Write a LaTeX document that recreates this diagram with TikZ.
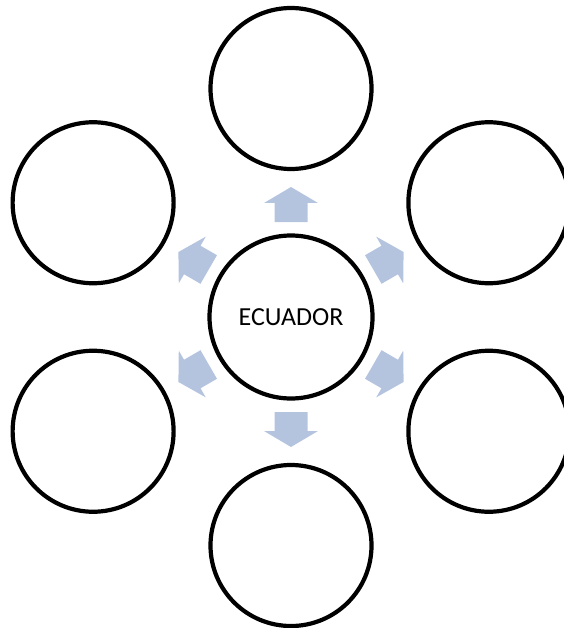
\documentclass[tikz,border=0pt]{standalone}
\usepackage{fontspec}
\setmainfont{Carlito}
\usetikzlibrary{calc}
\definecolor{arrowblue}{RGB}{180,196,223}

\begin{document}
\begin{tikzpicture}[x=1pt,y=-1pt,
    bubble/.style={circle, draw=black, line width=4.2pt, minimum size=161pt, inner sep=0pt},
    hub/.style={bubble, minimum size=163pt, font=\fontsize{26}{30}\selectfont}]
        \useasboundingbox (0,0) rectangle (563,628);

        % Centre circle
        \node[hub] (ecuador) at (291,317) {ECUADOR};

        % Outer circles
        \foreach \ang/\name in {90/top, 30/upright, -30/lowright, -90/bottom, -150/lowleft, 150/upleft}
            \node[bubble] (\name) at ($(ecuador.center)+(\ang:228.5)$) {};

        % Block arrows
        \foreach \ang in {90, 30, -30, -90, -150, 150}
            \fill[arrowblue, shift={(ecuador.center)}, rotate=-\ang]
                (95,-16.5) -- (114,-16.5) -- (114,-27) -- (130,0) -- (114,27) -- (114,16.5) -- (95,16.5) -- cycle;

    \end{tikzpicture}
\end{document}
